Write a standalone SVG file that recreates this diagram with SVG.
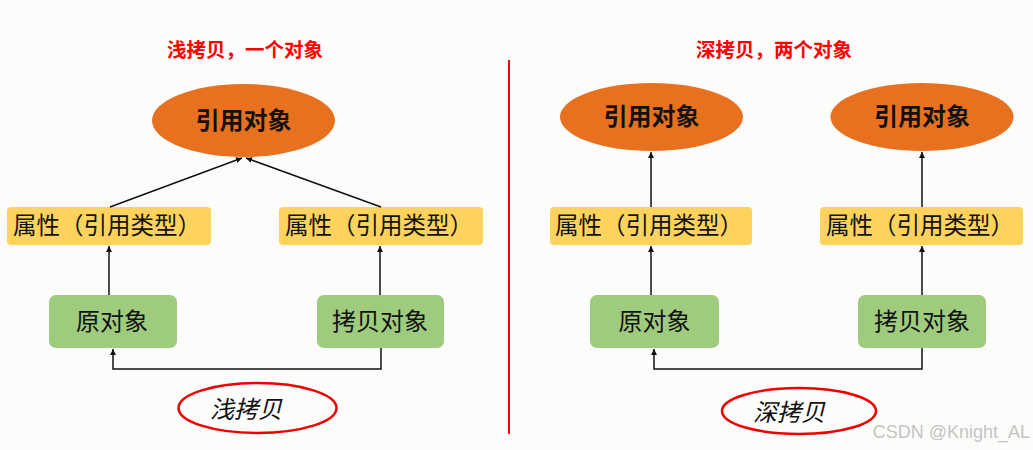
<svg xmlns="http://www.w3.org/2000/svg" width="1033" height="450" viewBox="0 0 1033 450">
<defs>
<style>
.cjk{font-family:"Noto Sans CJK SC","Noto Sans",sans-serif;}
.title{font-size:19.5px;font-weight:bold;fill:#ff0000;text-anchor:middle;}
.ref{fill:#e8711f;}
.reft{font-size:24px;font-weight:bold;fill:#111;text-anchor:middle;}
.prop{fill:#fdd35e;}
.propt{font-size:23.5px;fill:#111;text-anchor:middle;}
.obj{fill:#9ecb7e;}
.objt{font-size:24px;fill:#111;text-anchor:middle;}
.conn{stroke:#111;stroke-width:1.5;fill:none;marker-end:url(#ah);}
.oval{fill:none;stroke:#ee0000;stroke-width:2.5;}
.ovt{font-size:24px;font-style:italic;fill:#111;text-anchor:middle;}
</style>
<marker id="ah" viewBox="0 0 10 10" refX="10" refY="5" markerWidth="6" markerHeight="6" orient="auto" markerUnits="userSpaceOnUse">
<path d="M0,0 L10,5 L0,10 z" fill="#111"/>
</marker>
</defs>
<rect x="0" y="0" width="1033" height="450" fill="#fcfcfa"/>
<line x1="509" y1="60" x2="509" y2="434" stroke="#ff0000" stroke-width="2"/>

<text class="cjk title" x="245" y="57">浅拷贝，一个对象</text>
<text class="cjk title" x="774" y="57">深拷贝，两个对象</text>

<g id="ref-left">
<ellipse class="ref" cx="243.5" cy="120.5" rx="91.5" ry="36.5"/>
<text class="cjk reft" x="243.5" y="129">引用对象</text>
</g>
<g id="prop-l1">
<rect class="prop" x="7" y="207" width="204" height="38" rx="4"/>
<text class="cjk propt" x="107" y="234">属性（引用类型）</text>
</g>
<g id="prop-l2">
<rect class="prop" x="279" y="207" width="204" height="38" rx="4"/>
<text class="cjk propt" x="379" y="234">属性（引用类型）</text>
</g>
<g id="orig-left">
<rect class="obj" x="49" y="295" width="128" height="53" rx="7"/>
<text class="cjk objt" x="112" y="330">原对象</text>
</g>
<g id="copy-left">
<rect class="obj" x="317" y="295" width="127" height="53" rx="7"/>
<text class="cjk objt" x="380" y="330">拷贝对象</text>
</g>
<g id="label-shallow">
<ellipse class="oval" cx="257.5" cy="408" rx="79" ry="25"/>
<text class="cjk ovt" x="246" y="418">浅拷贝</text>
</g>

<g id="ref-right1">
<ellipse class="ref" cx="651.5" cy="117" rx="91.5" ry="34"/>
<text class="cjk reft" x="651.5" y="125">引用对象</text>
</g>
<g id="ref-right2">
<ellipse class="ref" cx="922" cy="117" rx="91.5" ry="34"/>
<text class="cjk reft" x="922" y="125">引用对象</text>
</g>
<g id="prop-r1">
<rect class="prop" x="550" y="207" width="202" height="38" rx="4"/>
<text class="cjk propt" x="649" y="234">属性（引用类型）</text>
</g>
<g id="prop-r2">
<rect class="prop" x="820" y="207" width="203" height="38" rx="4"/>
<text class="cjk propt" x="920" y="234">属性（引用类型）</text>
</g>
<g id="orig-right">
<rect class="obj" x="590" y="295" width="129" height="53" rx="7"/>
<text class="cjk objt" x="654.5" y="330">原对象</text>
</g>
<g id="copy-right">
<rect class="obj" x="858" y="295" width="128" height="53" rx="7"/>
<text class="cjk objt" x="922" y="330">拷贝对象</text>
</g>
<g id="label-deep">
<ellipse class="oval" cx="799" cy="411" rx="77" ry="23"/>
<text class="cjk ovt" x="789" y="421">深拷贝</text>
</g>

<g id="connectors">
<path class="conn" d="M110,207 L242,158"/>
<path class="conn" d="M381,207 L246,158"/>
<path class="conn" d="M109,295 L109,246"/>
<path class="conn" d="M380,295 L380,246"/>
<path class="conn" d="M381,348 L381,369 L113,369 L113,349"/>
<path class="conn" d="M651,207 L651,152"/>
<path class="conn" d="M922,207 L922,152"/>
<path class="conn" d="M651,295 L651,246"/>
<path class="conn" d="M922,295 L922,246"/>
<path class="conn" d="M922,348 L922,369 L654,369 L654,349"/>
</g>

<text x="1030" y="438" font-family="'Liberation Sans',Arial,sans-serif" font-size="18" fill="#c4c4c4" text-anchor="end">CSDN @Knight_AL</text>
</svg>
